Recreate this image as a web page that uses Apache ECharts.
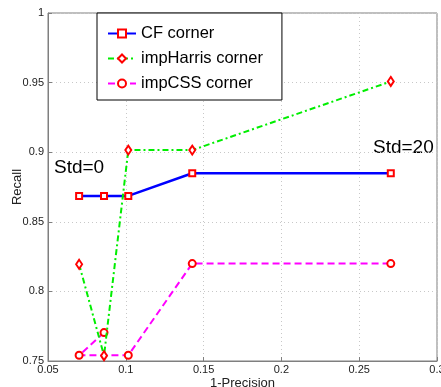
<!DOCTYPE html>
<html>
<head>
<meta charset="utf-8">
<script src="https://cdn.jsdelivr.net/npm/echarts@6/dist/echarts.min.js"></script>
<style>
html,body{margin:0;padding:0;background:#fff;}
#c{width:441px;height:387px;}
</style>
</head>
<body>
<div id="c"></div>
<script>
var seriesNames = ['CF corner', 'impHarris corner', 'impCSS corner'];
var cfData = [[0.070, 0.8686], [0.086, 0.8686], [0.1016, 0.8686], [0.1427, 0.8849], [0.2703, 0.8849]];
var harrisData = [[0.070, 0.8195], [0.086, 0.7538], [0.1016, 0.9015], [0.1427, 0.9015], [0.2703, 0.9508]];
var cssData = [[0.086, 0.7704], [0.070, 0.7541], [0.1016, 0.7541], [0.1427, 0.8200], [0.2703, 0.8200]];
var xTicks = [0.05, 0.1, 0.15, 0.2, 0.25, 0.3];
var yTicks = [0.75, 0.8, 0.85, 0.9, 0.95, 1];
var annotations = ['Std=0', 'Std=20'];

var FONT = '"Liberation Sans", Arial, sans-serif';
var chart = echarts.init(document.getElementById('c'));
function fmt(v){ return String(Math.round(v*100)/100); }
var markerStyle = {color: '#ffffff', borderColor: '#ff0000', borderWidth: 2};
chart.setOption({
  animation: false,
  backgroundColor: '#ffffff',
  grid: {left: 48, right: 4, top: 13, bottom: 26, containLabel: false, outerBoundsMode: 'none',
         show: true, borderColor: '#7f7f7f', borderWidth: 1, backgroundColor: 'transparent'},
  xAxis: {
    type: 'value', min: xTicks[0], max: xTicks[xTicks.length-1], interval: 0.05,
    name: '1-Precision', nameLocation: 'middle', nameGap: 16, nameMoveOverlap: false,
    nameTextStyle: {fontFamily: FONT, fontSize: 13, color: '#222'},
    axisLine: {show: true, lineStyle: {color: '#7f7f7f'}},
    axisTick: {show: true, inside: true, length: 4, lineStyle: {color: '#7f7f7f'}},
    axisLabel: {fontFamily: FONT, fontSize: 11, color: '#222', margin: 3, formatter: fmt, showMaxLabel: true},
    splitLine: {show: true, lineStyle: {color: '#c8c8c8', type: [1, 3]}}
  },
  yAxis: {
    type: 'value', min: yTicks[0], max: yTicks[yTicks.length-1], interval: 0.05,
    name: 'Recall', nameLocation: 'middle', nameGap: 24, nameMoveOverlap: false,
    nameTextStyle: {fontFamily: FONT, fontSize: 13, color: '#222'},
    axisLine: {show: true, lineStyle: {color: '#7f7f7f'}},
    axisTick: {show: true, inside: true, length: 4, lineStyle: {color: '#7f7f7f'}},
    axisLabel: {fontFamily: FONT, fontSize: 11, color: '#222', margin: 4, formatter: fmt},
    splitLine: {show: true, lineStyle: {color: '#c8c8c8', type: [1, 3]}}
  },
  legend: {
    orient: 'vertical', left: 97, top: 13,
    backgroundColor: '#ffffff', borderColor: '#000', borderWidth: 1,
    padding: [12, 19, 8, 10], itemGap: 8, itemWidth: 28, itemHeight: 10,
    textStyle: {fontFamily: FONT, fontSize: 16.5, color: '#000'},
    data: seriesNames
  },
  series: [
    {name: seriesNames[0], type: 'line', data: cfData, symbol: 'rect', symbolSize: 6,
     lineStyle: {color: '#0000ff', width: 2.5}, itemStyle: markerStyle, z: 3},
    {name: seriesNames[1], type: 'line', data: harrisData, symbol: 'diamond', symbolSize: [6, 9],
     lineStyle: {color: '#00ee00', width: 2, type: [6, 3, 2, 3]}, itemStyle: markerStyle, z: 4},
    {name: seriesNames[2], type: 'line', data: cssData, symbol: 'circle', symbolSize: 7,
     lineStyle: {color: '#ff00ff', width: 2, type: [7, 4]}, itemStyle: markerStyle, z: 2}
  ],
  graphic: [
    {type: 'text', left: 54, top: 158, style: {text: annotations[0], font: '19px ' + FONT, fill: '#000'}},
    {type: 'text', left: 373, top: 138, style: {text: annotations[1], font: '19px ' + FONT, fill: '#000'}}
  ]
});
</script>
</body>
</html>
